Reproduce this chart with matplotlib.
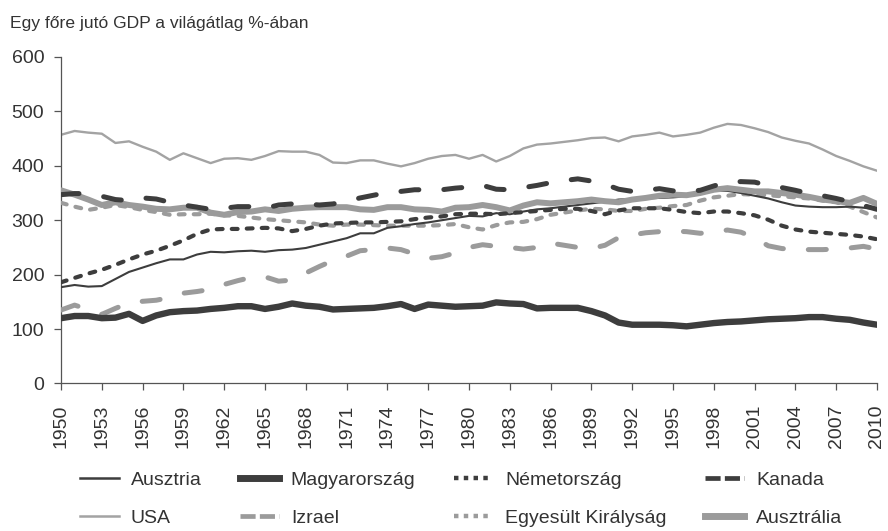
import numpy as np
import matplotlib
matplotlib.use("Agg")
import matplotlib.pyplot as plt
from matplotlib.lines import Line2D

plt.rcParams['font.family'] = ['Liberation Sans', 'DejaVu Sans']

# Évek (1950-2010)
years = np.arange(1950, 2011)

# Egy főre jutó GDP a világátlag %-ában
ausztria = [177, 181, 178, 179, 192, 205, 213, 221, 228, 228,
            237, 242, 241, 243, 244, 242, 245, 246, 249, 255,
            261, 267, 276, 276, 286, 289, 293, 296, 300, 304,
            308, 307, 313, 311, 316, 320, 322, 325, 328, 331,
            334, 338, 339, 340, 341, 342, 344, 348, 354, 354,
            350, 345, 340, 333, 327, 325, 324, 324, 325, 323, 320]
magyar = [120, 124, 124, 120, 121, 128, 115, 125, 131, 133,
          134, 137, 139, 142, 142, 137, 141, 147, 143, 141,
          136, 137, 138, 139, 142, 146, 137, 145, 143, 141,
          142, 143, 149, 147, 146, 138, 139, 139, 139, 133,
          125, 112, 108, 108, 108, 107, 105, 108, 111, 113,
          114, 116, 118, 119, 120, 122, 122, 119, 117, 112, 108]
nemet = [186, 194, 202, 209, 218, 228, 237, 244, 253, 263,
         275, 283, 284, 284, 285, 286, 285, 280, 284, 290,
         294, 295, 296, 296, 297, 298, 302, 305, 307, 311,
         312, 312, 311, 313, 315, 317, 319, 321, 321, 317,
         311, 318, 322, 322, 322, 319, 315, 313, 316, 316,
         313, 309, 301, 290, 283, 279, 277, 275, 273, 270, 265]
kanada = [347, 349, 349, 344, 338, 336, 341, 339, 333, 328,
          324, 320, 322, 325, 325, 322, 328, 330, 330, 328,
          330, 335, 341, 346, 351, 353, 356, 356, 356, 359,
          361, 364, 357, 356, 360, 364, 369, 373, 376, 372,
          366, 357, 353, 355, 358, 354, 353, 355, 363, 370,
          371, 370, 364, 360, 355, 349, 345, 340, 334, 327, 320]
usa = [457, 464, 461, 459, 442, 445, 435, 426, 411, 423,
       414, 405, 413, 414, 411, 418, 427, 426, 426, 420,
       406, 405, 410, 410, 404, 399, 405, 413, 418, 420,
       413, 420, 408, 418, 432, 439, 441, 444, 447, 451,
       452, 445, 454, 457, 461, 454, 457, 461, 470, 477,
       475, 469, 462, 452, 446, 441, 430, 418, 409, 399, 391]
izrael = [135, 144, 136, 127, 138, 148, 151, 153, 158, 166,
          169, 173, 182, 189, 195, 196, 188, 190, 203, 215,
          226, 234, 244, 246, 249, 246, 238, 230, 233, 240,
          250, 255, 252, 250, 247, 250, 258, 254, 250, 248,
          254, 268, 273, 277, 279, 280, 279, 276, 278, 282,
          278, 268, 253, 248, 246, 246, 246, 247, 249, 252, 247]
uk = [332, 325, 319, 323, 328, 324, 319, 315, 310, 311,
      311, 312, 309, 308, 305, 302, 300, 298, 296, 292,
      290, 292, 292, 291, 290, 290, 290, 290, 291, 293,
      287, 283, 291, 296, 297, 302, 310, 314, 318, 321,
      320, 317, 317, 321, 323, 326, 328, 336, 342, 345,
      348, 347, 346, 344, 342, 340, 336, 333, 325, 315, 305]
ausztralia = [355, 347, 338, 328, 333, 328, 325, 321, 320, 323,
              323, 314, 310, 315, 316, 320, 317, 321, 323, 324,
              324, 324, 320, 319, 324, 324, 320, 319, 316, 323,
              324, 328, 324, 318, 327, 333, 331, 333, 335, 338,
              335, 333, 338, 341, 345, 347, 346, 350, 356, 359,
              356, 353, 353, 350, 347, 343, 338, 335, 332, 341, 330]

dark = '#3d3d3d'
light = '#9b9b9b'

fig = plt.figure(figsize=(8.88, 5.31), dpi=100)
ax = fig.add_axes([0.0687, 0.2778, 0.9189, 0.6149])

ax.plot(years, usa, color='#a3a3a3', lw=1.7, zorder=2)
ax.plot(years, izrael, color=light, lw=3.6, dashes=(3.6, 5.0),
        dash_capstyle='round', zorder=3)
ax.plot(years, uk, color=light, lw=3.0, dashes=(1.4, 2.2),
        dash_capstyle='round', zorder=3)
ax.plot(years, ausztria, color=dark, lw=1.5, zorder=4)
ax.plot(years, ausztralia, color=light, lw=4.3, solid_capstyle='round', zorder=5)
ax.plot(years, nemet, color=dark, lw=3.0, dashes=(1.4, 2.2),
        dash_capstyle='round', zorder=6)
ax.plot(years, kanada, color=dark, lw=3.6, dashes=(3.6, 5.0),
        dash_capstyle='round', zorder=6)
ax.plot(years, magyar, color=dark, lw=4.6, solid_capstyle='round', zorder=7)

ax.set_xlim(1950, 2010)
ax.set_ylim(0, 600)
ax.set_xticks(np.arange(1950, 2011, 3))
ax.set_yticks(np.arange(0, 601, 100))
ax.tick_params(axis='x', labelrotation=90, length=5, width=0.9,
               color='#555555', labelsize=14, labelcolor='#333333', pad=10)
ax.tick_params(axis='y', length=5, width=0.9, color='#555555',
               labelsize=14, labelcolor='#333333', pad=7)
for s in ['top', 'right']:
    ax.spines[s].set_visible(False)
for s in ['left', 'bottom']:
    ax.spines[s].set_color('#555555')
    ax.spines[s].set_linewidth(0.9)

fig.text(0.011, 0.955, 'Egy főre jutó GDP a világátlag %-ában',
         fontsize=12.6, color='#333333', va='center', ha='left')

# Jelmagyarázat (oszloponként feltöltve)
handles = [
    Line2D([], [], color=dark, lw=1.8),
    Line2D([], [], color='#a3a3a3', lw=1.8),
    Line2D([], [], color=dark, lw=5),
    Line2D([], [], color=light, lw=3.4, dashes=(3.2, 0.9)),
    Line2D([], [], color=dark, lw=3.2, dashes=(1.0, 1.2)),
    Line2D([], [], color=light, lw=3.2, dashes=(1.0, 1.2)),
    Line2D([], [], color=dark, lw=3.4, dashes=(3.2, 0.9)),
    Line2D([], [], color=light, lw=5),
]
labels = ['Ausztria', 'USA', 'Magyarország', 'Izrael',
          'Németország', 'Egyesült Királyság', 'Kanada', 'Ausztrália']
fig.legend(handles, labels, ncol=4, loc='upper left',
           bbox_to_anchor=(0.090, 0.112), frameon=False, fontsize=14,
           handlelength=2.0, handletextpad=0.6, columnspacing=2.0,
           labelspacing=1.05, borderpad=0, borderaxespad=0,
           labelcolor='#333333')

plt.savefig('out.png', dpi=100)
